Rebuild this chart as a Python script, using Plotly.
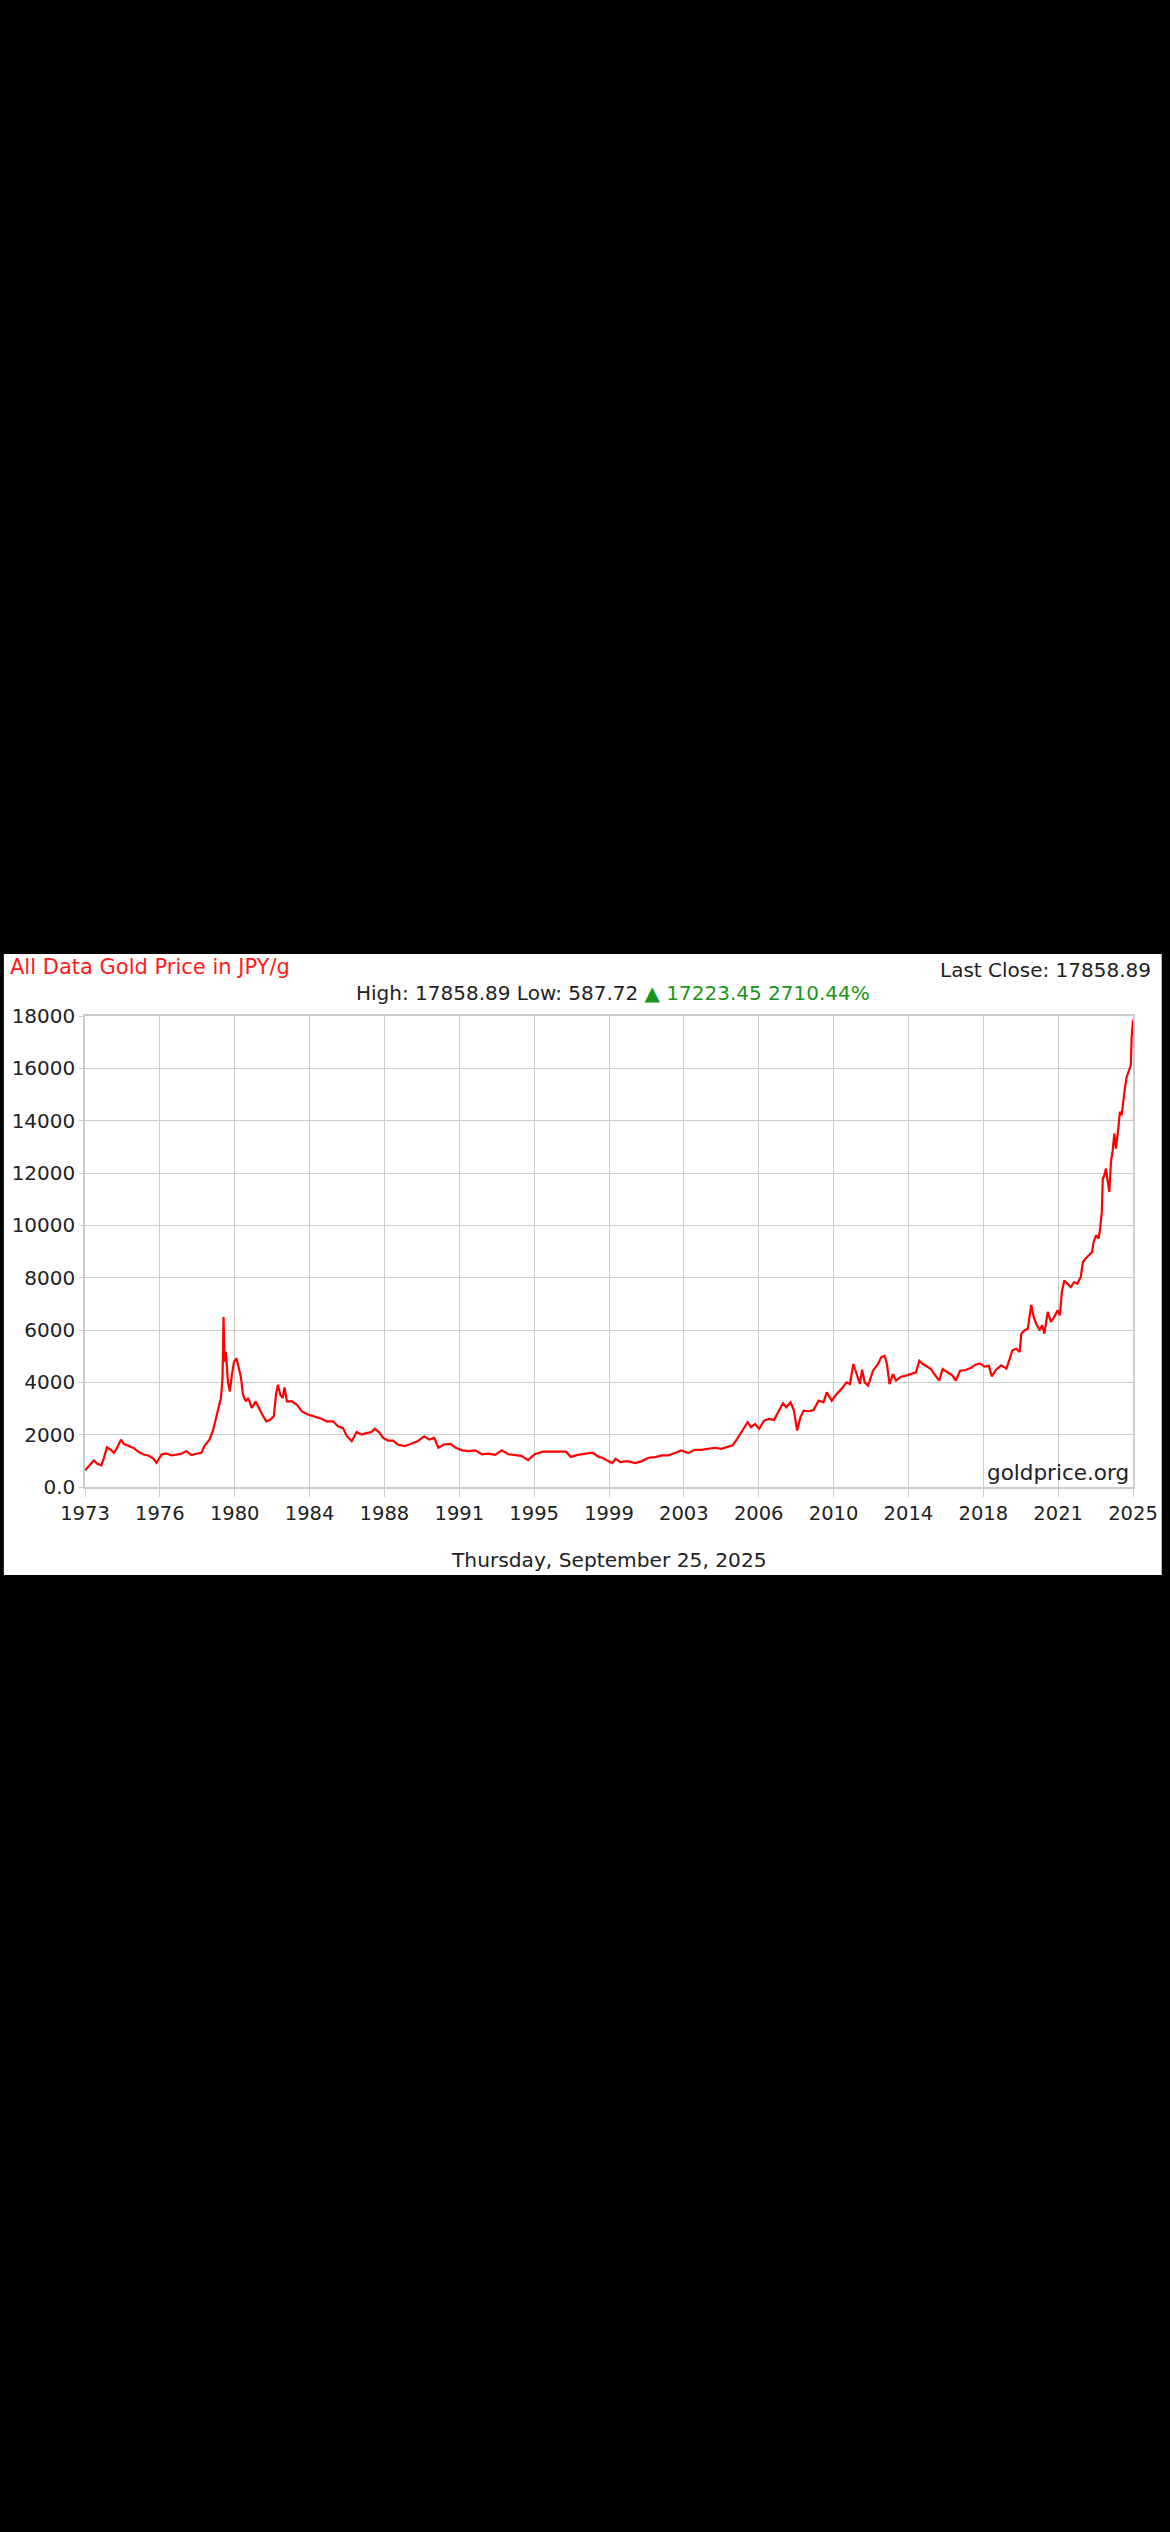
import numpy as np
import plotly.graph_objects as go

# ---------------- data ----------------
years = [
    1973.00, 1973.28, 1973.45, 1973.62, 1973.82, 1973.95, 1974.11, 1974.28, 1974.45, 1974.61,
    1974.81, 1974.95, 1975.19, 1975.44, 1975.69, 1975.94, 1976.19, 1976.44, 1976.60, 1976.85,
    1977.10, 1977.35, 1977.60, 1977.85, 1978.10, 1978.35, 1978.60, 1978.85, 1979.01, 1979.26,
    1979.43, 1979.59, 1979.72, 1979.84, 1979.92, 1979.97, 1980.02, 1980.09, 1980.19, 1980.29,
    1980.39, 1980.50, 1980.62, 1980.72, 1980.84, 1980.95, 1981.09, 1981.22, 1981.39, 1981.59,
    1981.75, 1981.92, 1982.12, 1982.33, 1982.50, 1982.61, 1982.70, 1982.83, 1982.95, 1983.04,
    1983.16, 1983.41, 1983.66, 1983.91, 1984.24, 1984.57, 1984.90, 1985.15, 1985.48, 1985.73,
    1985.98, 1986.17, 1986.42, 1986.67, 1986.91, 1987.16, 1987.41, 1987.58, 1987.79, 1988.00,
    1988.25, 1988.50, 1988.74, 1989.08, 1989.41, 1989.74, 1990.07, 1990.32, 1990.57, 1990.78,
    1991.07, 1991.40, 1991.65, 1991.98, 1992.31, 1992.64, 1992.97, 1993.30, 1993.64, 1993.97,
    1994.30, 1994.63, 1994.96, 1995.29, 1995.63, 1996.04, 1996.46, 1996.87, 1997.20, 1997.45,
    1997.79, 1998.20, 1998.53, 1998.86, 1999.03, 1999.28, 1999.53, 1999.70, 1999.94, 2000.27,
    2000.69, 2001.02, 2001.35, 2001.69, 2002.02, 2002.35, 2002.68, 2003.01, 2003.35, 2003.68,
    2004.01, 2004.34, 2004.68, 2005.01, 2005.34, 2005.59, 2005.76, 2005.92, 2006.09, 2006.34,
    2006.51, 2006.72, 2006.92, 2007.17, 2007.42, 2007.67, 2007.92, 2008.12, 2008.28, 2008.50,
    2008.67, 2008.83, 2009.00, 2009.16, 2009.41, 2009.66, 2009.91, 2010.16, 2010.32, 2010.57,
    2010.82, 2011.07, 2011.32, 2011.49, 2011.66, 2011.82, 2011.99, 2012.10, 2012.23, 2012.40,
    2012.65, 2012.90, 2013.06, 2013.23, 2013.35, 2013.48, 2013.65, 2013.81, 2014.06, 2014.31,
    2014.56, 2014.81, 2014.98, 2015.15, 2015.31, 2015.56, 2015.73, 2015.98, 2016.15, 2016.40,
    2016.65, 2016.81, 2017.03, 2017.31, 2017.56, 2017.81, 2018.03, 2018.26, 2018.48, 2018.62,
    2018.84, 2019.10, 2019.36, 2019.53, 2019.66, 2019.86, 2020.03, 2020.11, 2020.28, 2020.44,
    2020.53, 2020.61, 2020.73, 2020.86, 2021.03, 2021.16, 2021.27, 2021.44, 2021.60, 2021.77,
    2021.94, 2022.05, 2022.15, 2022.27, 2022.43, 2022.60, 2022.77, 2022.93, 2023.10, 2023.21,
    2023.34, 2023.51, 2023.67, 2023.75, 2023.87, 2024.00, 2024.08, 2024.16, 2024.21, 2024.29,
    2024.37, 2024.46, 2024.54, 2024.62, 2024.70, 2024.79, 2024.87, 2024.99, 2025.07, 2025.16,
    2025.24, 2025.32, 2025.41, 2025.49, 2025.57, 2025.62, 2025.66, 2025.73,
]

price_jpy_per_g = [
    635, 860, 1015, 890, 830, 1115, 1520, 1430, 1305, 1495,
    1810, 1650, 1560, 1495, 1345, 1240, 1205, 1090, 925, 1240,
    1280, 1205, 1240, 1270, 1370, 1217, 1270, 1305, 1560, 1810,
    2130, 2640, 3020, 3400, 4160, 6500, 4790, 5170, 4030, 3650,
    4285, 4790, 4920, 4540, 4220, 3525, 3270, 3400, 3020, 3270,
    3020, 2765, 2510, 2575, 2700, 3525, 3905, 3525, 3400, 3805,
    3270, 3270, 3145, 2890, 2765, 2700, 2610, 2510, 2510, 2320,
    2250, 1950, 1750, 2100, 2000, 2060, 2100, 2225, 2100, 1875,
    1775, 1775, 1625, 1560, 1650, 1750, 1940, 1810, 1875, 1500,
    1625, 1650, 1500, 1400, 1375, 1400, 1250, 1275, 1225, 1400,
    1250, 1225, 1190, 1025, 1250, 1350, 1350, 1350, 1350, 1150,
    1225, 1275, 1310, 1150, 1118, 1016, 915, 1080, 950, 990,
    915, 990, 1118, 1143, 1205, 1205, 1295, 1397, 1295, 1422,
    1422, 1460, 1500, 1460, 1550, 1590, 1778, 1970, 2160, 2475,
    2285, 2410, 2220, 2540, 2605, 2565, 2920, 3200, 3050, 3240,
    2920, 2160, 2670, 2920, 2895, 2945, 3300, 3240, 3620, 3300,
    3555, 3750, 4000, 3935, 4700, 4318, 3935, 4480, 4000, 3875,
    4445, 4700, 4955, 5015, 4700, 3935, 4318, 4065, 4215, 4255,
    4318, 4380, 4825, 4700, 4635, 4510, 4318, 4065, 4510, 4380,
    4255, 4065, 4445, 4470, 4545, 4675, 4725, 4600, 4630, 4230,
    4480, 4650, 4525, 4905, 5225, 5285, 5160, 5860, 5990, 6050,
    6500, 6960, 6500, 6240, 5990, 6180, 5860, 6690, 6305, 6500,
    6755, 6560, 7450, 7895, 7770, 7640, 7830, 7770, 8025, 8600,
    8725, 8855, 8980, 9365, 9620, 9490, 9900, 10510, 11785, 11910,
    12170, 11660, 11275, 12420, 12805, 13505, 12930, 13700, 14335, 14210,
    14840, 15225, 15670, 15860, 16050, 16115, 17140, 17859,
]

x_tick_labels = ["1973", "1976", "1980", "1984", "1988", "1991", "1995", "1999",
                 "2003", "2006", "2010", "2014", "2018", "2021", "2025"]
y_tick_values = [0, 2000, 4000, 6000, 8000, 10000, 12000, 14000, 16000, 18000]
y_tick_labels = ["0.0", "2000", "4000", "6000", "8000", "10000", "12000", "14000", "16000", "18000"]

title_text = "All Data Gold Price in JPY/g"
last_close_text = "Last Close: 17858.89"
stats_text = "High: 17858.89 Low: 587.72"
change_text = "▲ 17223.45 2710.44%"
source_text = "goldprice.org"
date_text = "Thursday, September 25, 2025"

# ---------------- layout geometry ----------------
W, H = 1170, 2532
PL, PR, PT, PB = 82, 1141, 1016, 1487   # plot area in pixels
pw, ph = PR - PL, PB - PT


def px(xpix):
    return (xpix - PL) / pw


def py(ypix):
    return (PB - ypix) / ph


FONT = "DejaVu Sans"
GRID = "#cccccc"
TXT = "#222222"

x_tick_positions = np.linspace(years[0], years[-1], len(x_tick_labels))

fig = go.Figure()
fig.add_trace(go.Scatter(
    x=years, y=price_jpy_per_g, mode="lines",
    line=dict(color="#ff0000", width=2.2),
    hoverinfo="x+y", showlegend=False,
))

fig.update_layout(
    width=W, height=H, autosize=False,
    margin=dict(l=PL, r=W - PR, t=PT, b=H - PB, pad=0),
    paper_bgcolor="black", plot_bgcolor="white",
    font=dict(family=FONT, color=TXT, size=20),
    showlegend=False,
    xaxis=dict(
        range=[years[0], years[-1]],
        tickmode="array", tickvals=list(x_tick_positions), ticktext=x_tick_labels,
        showgrid=True, gridcolor=GRID, gridwidth=1.3,
        showline=True, linecolor=GRID, linewidth=1.5, mirror=True,
        ticks="outside", ticklen=8, tickcolor=GRID, tickwidth=1.3,
        tickfont=dict(family=FONT, size=19.5, color=TXT),
        zeroline=False, fixedrange=True,
    ),
    yaxis=dict(
        range=[0, 18000],
        tickmode="array", tickvals=y_tick_values, ticktext=y_tick_labels,
        showgrid=True, gridcolor=GRID, gridwidth=1.3,
        showline=True, linecolor=GRID, linewidth=1.5, mirror=True,
        ticks="outside", ticklen=4, tickcolor=GRID, tickwidth=1.3,
        tickfont=dict(family=FONT, size=20, color=TXT),
        zeroline=False, fixedrange=True,
    ),
    shapes=[dict(
        type="rect", xref="paper", yref="paper",
        x0=px(0), x1=px(W), y0=py(1575), y1=py(954),
        fillcolor="white", line=dict(width=0), layer="below",
    )],
)

annots = [
    dict(text=title_text, x=px(4), y=py(967), xanchor="left", yanchor="middle",
         font=dict(family=FONT, size=21, color="#ff1a1a")),
    dict(text=last_close_text, x=px(1161), y=py(970), xanchor="right", yanchor="middle",
         font=dict(family=FONT, size=20, color=TXT)),
    dict(text=stats_text + " <span style='color:#1a961a'>" + change_text + "</span>",
         x=px(616), y=py(993), xanchor="center", yanchor="middle",
         font=dict(family=FONT, size=20, color=TXT)),
    dict(text=source_text, x=px(1139), y=py(1472), xanchor="right", yanchor="middle",
         font=dict(family=FONT, size=21.5, color=TXT)),
    dict(text=date_text, x=px(612), y=py(1560), xanchor="center", yanchor="middle",
         font=dict(family=FONT, size=20.2, color=TXT)),
]
for a in annots:
    fig.add_annotation(xref="paper", yref="paper", showarrow=False, **a)

page_css = (
    "html,body{margin:0!important;padding:0!important;overflow:hidden!important;"
    "background:black!important;scrollbar-width:none;}"
    "::-webkit-scrollbar{display:none;width:0;height:0;}"
)
fig.write_html(
    "out.html",
    config={"displayModeBar": False, "responsive": False},
    post_script=(
        "var s=document.createElement('style');s.textContent=" + repr(page_css) + ";"
        "document.head.appendChild(s);window.scrollTo(0,0);"
    ),
)
